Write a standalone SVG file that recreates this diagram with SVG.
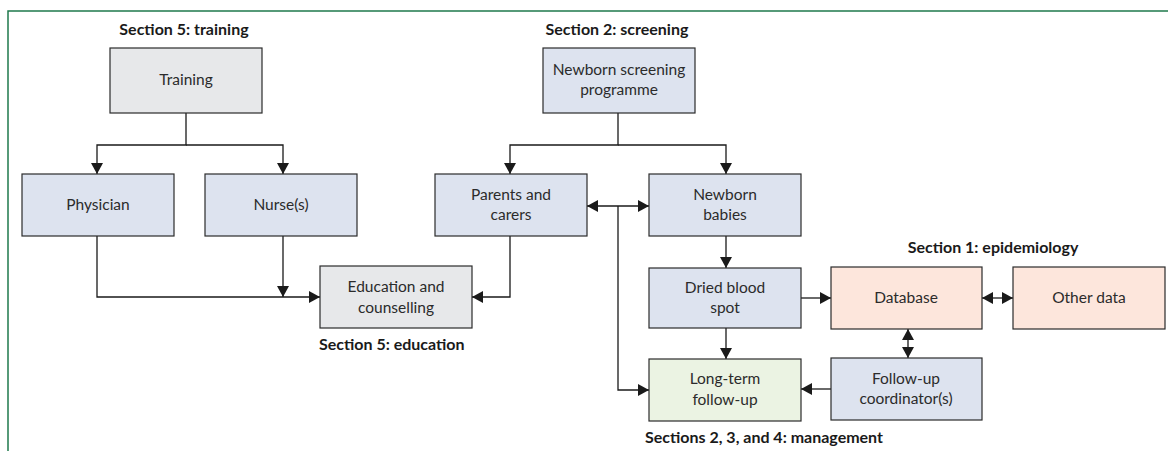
<svg xmlns="http://www.w3.org/2000/svg" width="1168" height="451" viewBox="0 0 1168 451">
<defs>
<style>
.box{stroke:#2b2b2b;stroke-width:1.2}
.blue{fill:#dde3ef}
.grey{fill:#e7e8ea}
.pink{fill:#fde6dc}
.green{fill:#ebf3e3}
.t{font-family:Lato,"Open Sans",sans-serif;font-size:15.5px;fill:#2b2b2b;text-anchor:middle}
.h{font-family:Lato,"Open Sans",sans-serif;font-size:16px;font-weight:bold;fill:#1a1a1a;text-anchor:middle}
.c{fill:none;stroke:#1a1a1a;stroke-width:1.3}
</style>
<marker id="ah" markerUnits="userSpaceOnUse" markerWidth="14" markerHeight="14" viewBox="0 0 14 14" refX="12" refY="7" orient="auto-start-reverse">
<path d="M1,1 L12,7 L1,13 Z" fill="#1a1a1a"/>
</marker>
</defs>
<g id="frame" fill="none" stroke="#1f7a4c" stroke-width="1.5">
<path d="M1168,11 H8 V451"/>
</g>
<g id="titles">
<text class="h" x="184" y="35">Section 5: training</text>
<text class="h" x="617" y="35">Section 2: screening</text>
<text class="h" x="993" y="253">Section 1: epidemiology</text>
<text class="h" x="319" y="350" style="text-anchor:start">Section 5: education</text>
<text class="h" x="764" y="443">Sections 2, 3, and 4: management</text>
</g>
<g id="connectors">
<path class="c" d="M186,113 V145 H97 V174" marker-end="url(#ah)"/>
<path class="c" d="M186,145 H283 V174" marker-end="url(#ah)"/>
<path class="c" d="M97,236 V297 H320" marker-end="url(#ah)"/>
<path class="c" d="M283,236 V297" marker-end="url(#ah)"/>
<path class="c" d="M618,113 V145 H510 V174" marker-end="url(#ah)"/>
<path class="c" d="M618,145 H726 V174" marker-end="url(#ah)"/>
<path class="c" d="M510,236 V297 H472" marker-end="url(#ah)"/>
<path class="c" d="M587,206 H649" marker-start="url(#ah)" marker-end="url(#ah)"/>
<path class="c" d="M618,206 V390 H649" marker-end="url(#ah)"/>
<path class="c" d="M726,236 V268" marker-end="url(#ah)"/>
<path class="c" d="M726,328 V359" marker-end="url(#ah)"/>
<path class="c" d="M801,298 H831" marker-end="url(#ah)"/>
<path class="c" d="M982,298 H1013" marker-start="url(#ah)" marker-end="url(#ah)"/>
<path class="c" d="M908,329 V358" marker-start="url(#ah)" marker-end="url(#ah)"/>
<path class="c" d="M831,389 H801" marker-end="url(#ah)"/>
</g>
<g id="training"><rect class="box grey" x="110" y="48" width="152" height="65"/><text class="t" x="186" y="85">Training</text></g>
<g id="physician"><rect class="box blue" x="22" y="174" width="152" height="62"/><text class="t" x="98" y="210">Physician</text></g>
<g id="nurse"><rect class="box blue" x="205" y="174" width="152" height="62"/><text class="t" x="281" y="210">Nurse(s)</text></g>
<g id="education"><rect class="box grey" x="320" y="266" width="152" height="62"/><text class="t" x="396" y="292">Education and</text><text class="t" x="396" y="313">counselling</text></g>
<g id="screening"><rect class="box blue" x="543" y="48" width="152" height="65"/><text class="t" x="619" y="75">Newborn screening</text><text class="t" x="619" y="95">programme</text></g>
<g id="parents"><rect class="box blue" x="435" y="174" width="152" height="62"/><text class="t" x="511" y="200">Parents and</text><text class="t" x="511" y="220">carers</text></g>
<g id="newborn"><rect class="box blue" x="649" y="174" width="152" height="62"/><text class="t" x="725" y="200">Newborn</text><text class="t" x="725" y="220">babies</text></g>
<g id="dried"><rect class="box blue" x="649" y="268" width="152" height="60"/><text class="t" x="725" y="293">Dried blood</text><text class="t" x="725" y="313">spot</text></g>
<g id="longterm"><rect class="box green" x="649" y="359" width="152" height="62"/><text class="t" x="725" y="384">Long-term</text><text class="t" x="725" y="405">follow-up</text></g>
<g id="database"><rect class="box pink" x="831" y="267" width="151" height="62"/><text class="t" x="906" y="303">Database</text></g>
<g id="otherdata"><rect class="box pink" x="1013" y="267" width="152" height="62"/><text class="t" x="1089" y="303">Other data</text></g>
<g id="coordinator"><rect class="box blue" x="831" y="358" width="151" height="62"/><text class="t" x="906" y="384">Follow-up</text><text class="t" x="906" y="404">coordinator(s)</text></g>
</svg>
